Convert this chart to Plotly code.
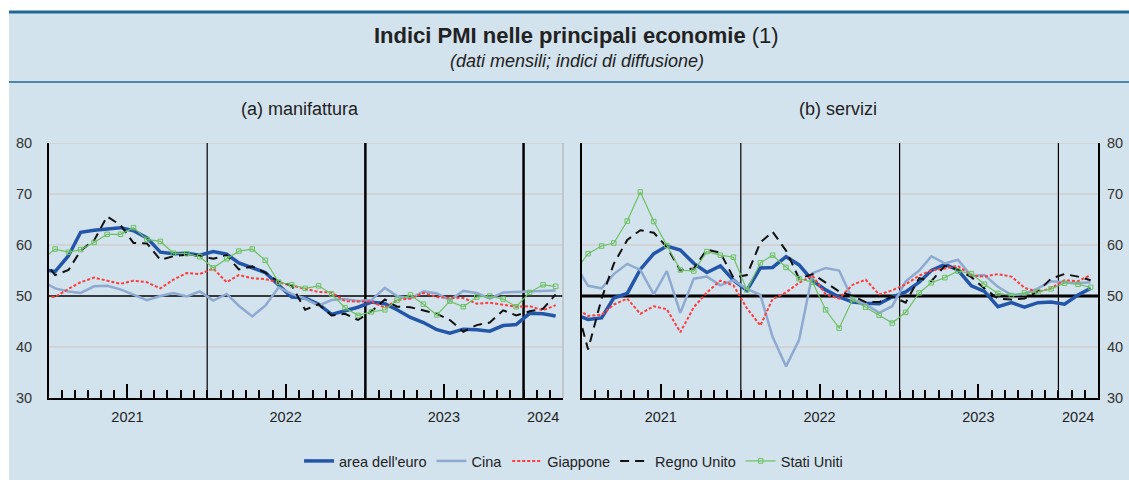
import pandas as pd
import plotly.graph_objects as go

# monthly data, Dec 2020 .. Mar 2024 (first point falls just left of the visible range)
months = pd.date_range("2020-12-01", "2024-03-01", freq="MS") + pd.Timedelta(days=14)

series_names = ["area dell'euro", "Cina", "Giappone", "Regno Unito", "Stati Uniti"]

manif_euro = [55.2,
              54.8, 57.9, 62.5, 62.9, 63.1, 63.4, 62.8, 61.4, 58.6, 58.3, 58.4, 58.0,
              58.7, 58.2, 56.5, 55.5, 54.6, 52.1, 49.8, 49.6, 48.4, 46.4, 47.1, 47.8,
              48.8, 48.5, 47.3, 45.8, 44.8, 43.4, 42.7, 43.5, 43.4, 43.1, 44.2, 44.4,
              46.6, 46.5, 46.1]
manif_cina = [53.0,
              51.5, 50.9, 50.6, 51.9, 52.0, 51.3, 50.3, 49.2, 50.0, 50.6, 49.9, 50.9,
              49.1, 50.4, 48.1, 46.0, 48.1, 51.7, 50.4, 49.5, 48.1, 49.2, 49.4, 49.0,
              49.2, 51.6, 50.0, 49.5, 50.9, 50.5, 49.2, 51.0, 50.6, 49.5, 50.7, 50.8,
              50.8, 50.9, 51.1]
manif_giappone = [50.0,
                  49.8, 51.4, 52.7, 53.6, 53.0, 52.4, 53.0, 52.7, 51.5, 53.2, 54.5, 54.3,
                  55.4, 52.7, 54.1, 53.5, 53.3, 52.7, 52.1, 51.5, 50.8, 50.7, 49.0, 48.9,
                  48.9, 47.7, 49.2, 49.5, 50.6, 49.8, 49.6, 49.6, 48.5, 48.7, 48.3, 47.9,
                  48.0, 47.2, 48.2]
manif_uk = [57.5,
            54.1, 55.1, 58.9, 60.9, 65.6, 63.9, 60.4, 60.3, 57.1, 57.8, 58.1, 57.9,
            57.3, 58.0, 55.2, 55.8, 54.6, 52.8, 52.1, 47.3, 48.4, 46.2, 46.5, 45.3,
            47.0, 49.3, 47.9, 47.8, 47.1, 46.5, 45.3, 43.0, 44.3, 44.8, 47.2, 46.2,
            47.0, 47.5, 50.3]
manif_usa = [57.1,
             59.2, 58.6, 59.1, 60.5, 62.1, 62.1, 63.4, 61.1, 60.7, 58.4, 58.3, 57.7,
             55.5, 57.3, 58.8, 59.2, 57.0, 52.7, 52.2, 51.5, 52.0, 50.4, 47.7, 46.2,
             46.9, 47.3, 49.2, 50.2, 48.4, 46.3, 49.0, 47.9, 49.8, 50.0, 49.4, 47.9,
             50.7, 52.2, 51.9]

serv_euro = [46.4,
             45.4, 45.7, 49.6, 50.5, 55.2, 58.3, 59.8, 59.0, 56.4, 54.6, 55.9, 53.1,
             51.1, 55.5, 55.6, 57.7, 56.1, 53.0, 51.2, 49.8, 48.8, 48.6, 48.5, 49.8,
             50.8, 52.7, 55.0, 56.2, 55.1, 52.0, 50.9, 47.9, 48.7, 47.8, 48.7, 48.8,
             48.4, 50.2, 51.5]
serv_cina = [56.3,
             52.0, 51.5, 54.3, 56.3, 55.1, 50.3, 54.9, 46.7, 53.4, 53.8, 52.1, 53.1,
             51.4, 50.2, 42.0, 36.2, 41.4, 54.5, 55.5, 55.0, 49.3, 48.4, 46.7, 48.0,
             52.9, 55.0, 57.8, 56.4, 57.1, 53.9, 54.1, 51.8, 50.2, 50.4, 51.5, 52.9,
             52.7, 52.5, 52.7]
serv_giappone = [47.7,
                 46.1, 46.3, 48.3, 49.5, 46.5, 48.0, 47.4, 42.9, 47.8, 50.7, 53.0, 52.1,
                 47.6, 44.2, 49.4, 50.7, 52.6, 54.0, 50.3, 49.5, 52.2, 53.2, 50.3, 51.1,
                 52.3, 54.0, 55.0, 55.4, 55.9, 54.0, 53.8, 54.3, 53.8, 51.6, 50.8, 51.5,
                 53.1, 52.9, 54.1]
serv_uk = [49.4,
           39.5, 49.5, 56.3, 61.0, 62.9, 62.4, 59.6, 55.0, 55.4, 59.1, 58.5, 53.6,
           54.1, 60.5, 62.6, 58.9, 53.4, 54.3, 52.6, 50.9, 50.0, 48.8, 48.8, 49.9,
           48.7, 53.5, 52.9, 55.9, 55.2, 53.7, 51.5, 49.5, 49.3, 49.5, 50.9, 53.4,
           54.3, 53.8, 53.1]
serv_usa = [54.8,
            58.3, 59.8, 60.4, 64.7, 70.4, 64.6, 59.9, 55.1, 54.9, 58.7, 58.0, 57.6,
            51.2, 56.5, 58.0, 55.6, 53.4, 52.7, 47.3, 43.7, 49.3, 47.8, 46.2, 44.7,
            46.8, 50.6, 52.6, 53.6, 54.9, 54.4, 52.3, 50.5, 50.1, 50.6, 50.8, 51.4,
            52.5, 52.3, 51.7]

year_labels = ["2021", "2022", "2023", "2024"]
y_ticks = [30, 40, 50, 60, 70, 80]

BG = "#d3e3ee"
styles = [
    dict(color="#2356a8", width=3.5),
    dict(color="#8eaad0", width=2.5),
    dict(color="#ff3b3b", width=2, dash="3px,2px"),
    dict(color="#111111", width=2, dash="9px,6px"),
    dict(color="#6cc060", width=1.2),
]

fig = go.Figure()

panels = [
    ("x", "y", [manif_euro, manif_cina, manif_giappone, manif_uk, manif_usa], True),
    ("x2", "y2", [serv_euro, serv_cina, serv_giappone, serv_uk, serv_usa], False),
]
for xa, ya, data, show in panels:
    for name, vals, st in zip(series_names, data, styles):
        mode = "lines+markers" if name == "Stati Uniti" else "lines"
        fig.add_trace(go.Scatter(
            x=months, y=vals, name=name, mode=mode, line=st,
            marker=dict(symbol="square-open", size=4.5, color=st["color"], line=dict(width=1)),
            xaxis=xa, yaxis=ya, showlegend=show,
        ))

xrange = ["2021-01-01", "2024-04-01"]
xcommon = dict(
    type="date", range=xrange, automargin=False,
    tickvals=["2021-07-01", "2022-07-01", "2023-07-01"], ticktext=year_labels[:3],
    ticks="inside", ticklen=14, tickwidth=2, tickcolor="black",
    minor=dict(ticks="inside", ticklen=8, tickwidth=2, tickcolor="black",
               dtick="M1", tick0="2021-01-01", showgrid=False),
    showgrid=False, showline=True, linecolor="black", linewidth=2,
    tickfont=dict(size=14.5, color="#222"), ticklabelstandoff=5,
)
ycommon = dict(
    range=[30, 80], tickvals=y_ticks, automargin=False,
    showgrid=False, zeroline=False,
    tickfont=dict(size=14.5, color="#333"), ticks="",
)

y_dom = [0.1708, 0.7021]
fig.update_layout(
    width=1129, height=480, autosize=False,
    margin=dict(l=0, r=0, t=0, b=0, pad=0, autoexpand=False),
    paper_bgcolor="white", plot_bgcolor="white",
    font=dict(family="Liberation Sans, Arial, sans-serif", color="#222"),
    xaxis=dict(domain=[49 / 1129, 563 / 1129], anchor="y", **xcommon),
    xaxis2=dict(domain=[582 / 1129, 1098 / 1129], anchor="y2", **xcommon),
    yaxis=dict(domain=y_dom, anchor="x", side="left", showline=True,
               linecolor="black", linewidth=2, ticklabelstandoff=12, **ycommon),
    yaxis2=dict(domain=y_dom, anchor="x2", side="right", showline=True, mirror=True,
                linecolor="black", linewidth=2, ticklabelstandoff=4, **ycommon),
    legend=dict(orientation="h", x=0.508, xanchor="center", y=1 - 461 / 480, yanchor="middle",
                font=dict(size=14.5, color="#222"), bgcolor="rgba(0,0,0,0)",
                itemwidth=30, tracegroupgap=0),
    showlegend=True,
)

shapes = [
    dict(type="rect", xref="paper", yref="paper", x0=9 / 1129, x1=1, y0=0, y1=1 - 12 / 480,
         fillcolor=BG, line=dict(width=0), layer="below"),
    dict(type="line", xref="paper", yref="paper", x0=9 / 1129, x1=1, y0=1 - 12 / 480, y1=1 - 12 / 480,
         line=dict(color="#1f6992", width=3), layer="below"),
    dict(type="line", xref="paper", yref="paper", x0=9 / 1129, x1=1, y0=1 - 82 / 480, y1=1 - 82 / 480,
         line=dict(color="#1f6992", width=1.5), layer="below"),
    # right frame of left panel
    dict(type="line", xref="x domain", yref="y domain", x0=1, x1=1, y0=0, y1=1,
         line=dict(color="#bdbdbd", width=1.5)),
]
for xa, ya, widths, w50 in [("x", "y", [1.2, 2.5, 2.5], 1.5), ("x2", "y2", [1.2, 1.2, 1.2], 3)]:
    # light grid
    for v in [40, 60, 70, 80]:
        shapes.append(dict(type="line", xref=xa + " domain", yref=ya, x0=0, x1=1, y0=v, y1=v,
                           line=dict(color="#cfcfcf", width=1.5), layer="below"))
    # year separators
    for yr, w in zip(["2022-01-01", "2023-01-01", "2024-01-01"], widths):
        shapes.append(dict(type="line", xref=xa, yref=ya, x0=yr, x1=yr, y0=30, y1=80,
                           line=dict(color="black", width=w), layer="below"))
    # 50 threshold
    shapes.append(dict(type="line", xref=xa + " domain", yref=ya, x0=0, x1=1, y0=50, y1=50,
                       line=dict(color="black", width=w50), layer="below"))
fig.update_layout(shapes=shapes)

annotations = [
    dict(text="<b>Indici PMI nelle principali economie</b> (1)", x=576 / 1129, y=1 - 36 / 480,
         font=dict(size=22, color="#222")),
    dict(text="<i>(dati mensili; indici di diffusione)</i>", x=577 / 1129, y=1 - 61 / 480,
         font=dict(size=18, color="#222")),
    dict(text="(a) manifattura", x=300 / 1129, y=1 - 109 / 480, font=dict(size=18, color="#222")),
    dict(text="(b) servizi", x=838 / 1129, y=1 - 109 / 480, font=dict(size=18, color="#222")),
    dict(text=year_labels[3], x="2024-02-15", xref="x", y=1 - 417 / 480, font=dict(size=14.5, color="#222")),
    dict(text=year_labels[3], x="2024-02-15", xref="x2", y=1 - 417 / 480, font=dict(size=14.5, color="#222")),
]
for a in annotations:
    a.setdefault("xref", "paper")
    a["yref"] = "paper"
    a["showarrow"] = False
    a["xanchor"] = "center"
    a["yanchor"] = "middle"
fig.update_layout(annotations=annotations)

fig.write_html(
    "out.html",
    config={"responsive": False, "displayModeBar": False},
    post_script=(
        "document.documentElement.style.margin='0';"
        "document.body.style.margin='0';"
        "document.body.style.overflow='hidden';"
    ),
)
